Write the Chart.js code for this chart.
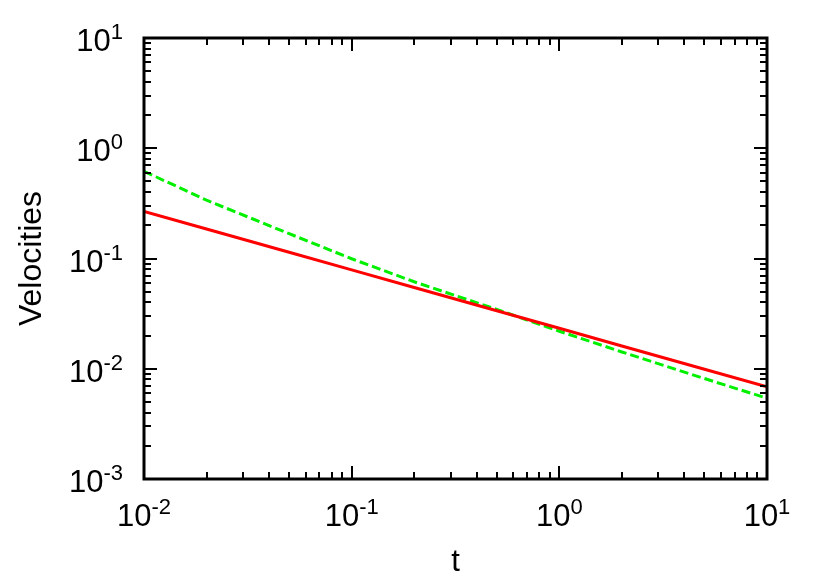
<!DOCTYPE html>
<html>
<head>
<meta charset="utf-8">
<script src="https://cdn.jsdelivr.net/npm/chart.js@4/dist/chart.umd.min.js"></script>
<style>
  html, body { margin: 0; padding: 0; background: #fff; }
  #wrap { width: 822px; height: 576px; }
</style>
</head>
<body>
<div id="wrap"><canvas id="myChart" width="822" height="576"></canvas></div>
<script>
// values
var tValues = [0.01, 0.02, 0.05, 0.1, 0.2, 0.5, 1, 2, 5, 10];
var redVelocity = [0.267, 0.185, 0.114, 0.0789, 0.0546, 0.0336, 0.0233, 0.0161, 0.0099, 0.00687];
var greenVelocity = [0.618, 0.338, 0.168, 0.0995, 0.0615, 0.0345, 0.0219, 0.0142, 0.00815, 0.0054];

var xExponents = [-2, -1, 0, 1];
var yExponents = [-3, -2, -1, 0, 1];

var fontName = "'Liberation Sans', Arial, sans-serif";

function toPoints(xs, ys) {
    var pts = [];
    for (var i = 0; i < xs.length; i++) {
        pts.push({ x: xs[i], y: ys[i] });
    }
    return pts;
}

function drawPower(ctx, exp, x, y, align) {
    var base = "10";
    var sup = String(exp);
    ctx.font = "31px " + fontName;
    var wb = ctx.measureText(base).width;
    ctx.font = "22px " + fontName;
    var ws = ctx.measureText(sup).width;
    var left = align === "center" ? x - (wb + ws) / 2 : x - (wb + ws);
    ctx.textAlign = "left";
    ctx.textBaseline = "alphabetic";
    ctx.font = "31px " + fontName;
    ctx.fillText(base, left, y);
    ctx.font = "22px " + fontName;
    ctx.fillText(sup, left + wb, y - 12);
}

// gnuplot-like frame: border, inward ticks on all sides, 10^n labels
var frameBox = {
    id: "frameBox",
    afterDraw: function (chart) {
        var ctx = chart.ctx;
        var a = chart.chartArea;
        var xs = chart.scales.x;
        var ys = chart.scales.y;
        ctx.save();
        ctx.strokeStyle = "#000";
        ctx.lineWidth = 2;
        ctx.beginPath();
        xExponents.forEach(function (e, i) {
            for (var m = 1; m <= 9; m++) {
                if (i === xExponents.length - 1 && m > 1) break;
                var px = Math.round(xs.getPixelForValue(m * Math.pow(10, e)));
                var len = m === 1 ? 13 : 7;
                ctx.moveTo(px, a.bottom); ctx.lineTo(px, a.bottom - len);
                ctx.moveTo(px, a.top); ctx.lineTo(px, a.top + len);
            }
        });
        yExponents.forEach(function (e, i) {
            for (var m = 1; m <= 9; m++) {
                if (i === yExponents.length - 1 && m > 1) break;
                var py = Math.round(ys.getPixelForValue(m * Math.pow(10, e)));
                var len = m === 1 ? 13 : 7;
                ctx.moveTo(a.left, py); ctx.lineTo(a.left + len, py);
                ctx.moveTo(a.right, py); ctx.lineTo(a.right - len, py);
            }
        });
        ctx.stroke();
        ctx.lineWidth = 3;
        ctx.strokeRect(a.left, a.top, a.right - a.left, a.bottom - a.top);

        ctx.fillStyle = "#000";
        xExponents.forEach(function (e) {
            var px = xs.getPixelForValue(Math.pow(10, e));
            drawPower(ctx, e, px, a.bottom + 47, "center");
        });
        yExponents.forEach(function (e) {
            var py = ys.getPixelForValue(Math.pow(10, e));
            drawPower(ctx, e, a.left - 21, py + 13, "right");
        });
        ctx.restore();
    }
};

function init_chart() {
    var ctx = document.getElementById("myChart").getContext("2d");
    window.myChart = new Chart(ctx, {
        type: "line",
        data: {
            datasets: [
                {
                    label: "red",
                    data: toPoints(tValues, redVelocity),
                    borderColor: "#ff0000",
                    backgroundColor: "#ff0000",
                    borderWidth: 3,
                    pointRadius: 0,
                    lineTension: 0,
                    fill: false,
                },
                {
                    label: "green",
                    data: toPoints(tValues, greenVelocity),
                    borderColor: "#00f000",
                    backgroundColor: "#00f000",
                    borderWidth: 3,
                    borderDash: [9, 4],
                    pointRadius: 0,
                    lineTension: 0,
                    fill: false,
                },
            ],
        },
        options: {
            responsive: false,
            animation: false,
            layout: { padding: { top: 38, right: 55, left: 0, bottom: 0 } },
            plugins: {
                legend: { display: false },
                tooltip: { enabled: false },
            },
            scales: {
                x: {
                    type: "logarithmic",
                    min: 0.01,
                    max: 10,
                    grid: { display: false },
                    border: { display: false },
                    ticks: { display: false },
                    title: {
                        display: true,
                        text: "t",
                        color: "#000",
                        font: { family: fontName, size: 31, lineHeight: 0.9 },
                        padding: { top: 0, bottom: 0 },
                    },
                    afterFit: function (s) { s.height = 97; },
                },
                y: {
                    type: "logarithmic",
                    min: 0.001,
                    max: 10,
                    grid: { display: false },
                    border: { display: false },
                    ticks: { display: false },
                    title: {
                        display: true,
                        text: "Velocities",
                        color: "#000",
                        font: { family: fontName, size: 32, lineHeight: 1 },
                        padding: { top: 16, bottom: 0 },
                    },
                    afterFit: function (s) { s.width = 144; },
                },
            },
        },
        plugins: [frameBox],
    });
}

init_chart();
</script>
</body>
</html>
